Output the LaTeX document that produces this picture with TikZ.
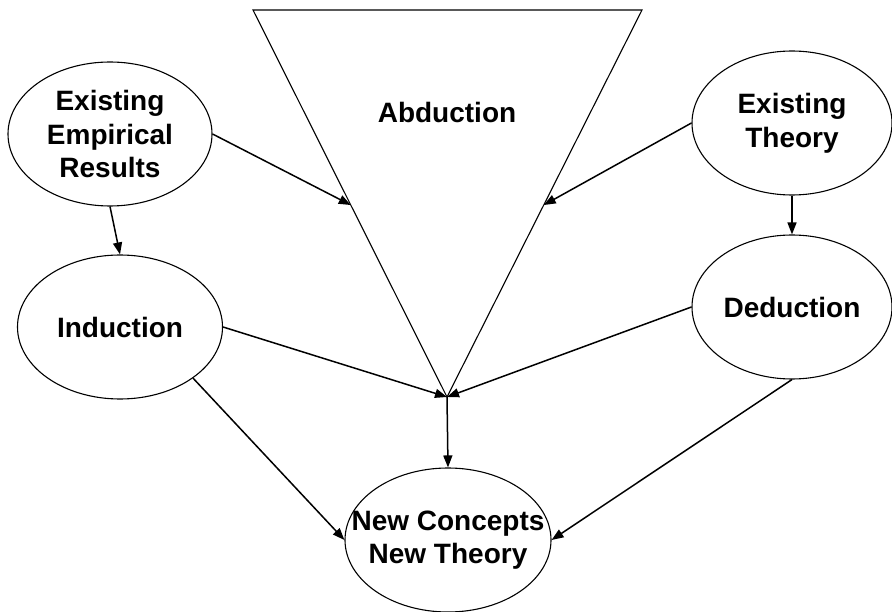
\documentclass[tikz,border=0pt]{standalone}
\usepackage{fontspec}
\setmainfont{Liberation Sans}
\usetikzlibrary{shapes.geometric,arrows.meta,calc}
\tikzset{
  bubble/.style={ellipse, draw, line width=1.1pt, minimum width=204pt,
    minimum height=144pt, inner xsep=-30pt, inner ysep=0pt, align=center,
    font=\bfseries\fontsize{28}{33.6}\selectfont},
  label/.style={align=center, font=\bfseries\fontsize{28}{33.6}\selectfont},
  flow/.style={line width=1.5pt, -{Triangle[length=12pt,width=9pt]}},
  funnel/.style={line width=1.1pt, line join=miter}
}
\begin{document}
\begin{tikzpicture}[x=1pt,y=-1pt]
\useasboundingbox (0,0) rectangle (892,612);

% abduction funnel
\coordinate (tl) at (253,10);
\coordinate (tr) at (642,10);
\coordinate (apex) at (447,397);
\draw[funnel] (tl) -- (tr) -- (apex) -- cycle;
\coordinate (abdL) at ($(tl)!0.504!(apex)$);
\coordinate (abdR) at ($(tr)!0.504!(apex)$);
\node[label] (abd) at (447,112) {Abduction};

% reasoning modes
\node[bubble] (eer) at (110,134) {Existing\\Empirical\\Results};
\node[bubble, minimum width=200pt] (et) at (792,123) {Existing\\Theory};
\node[bubble, minimum width=205pt] (ind) at (120,327) {Induction};
\node[bubble, minimum width=200pt] (ded) at (792,307) {Deduction};
\node[bubble, minimum width=206pt] (nc) at (448,540) {New Concepts\\New Theory};

% connectors
\draw[flow] (eer.east) -- (abdL);
\draw[flow] (et.west) -- (abdR);
\draw[flow] (eer.south) -- (ind.north);
\draw[flow] (et.south) -- (ded.north);
\draw[flow] (ind.east) -- (apex);
\draw[flow] (ded.west) -- (apex);
\draw[flow] (apex) -- (nc.north);
\draw[flow] (ind.-35) -- (nc.west);
\draw[flow] (ded.south) -- (nc.east);
\end{tikzpicture}
\end{document}
